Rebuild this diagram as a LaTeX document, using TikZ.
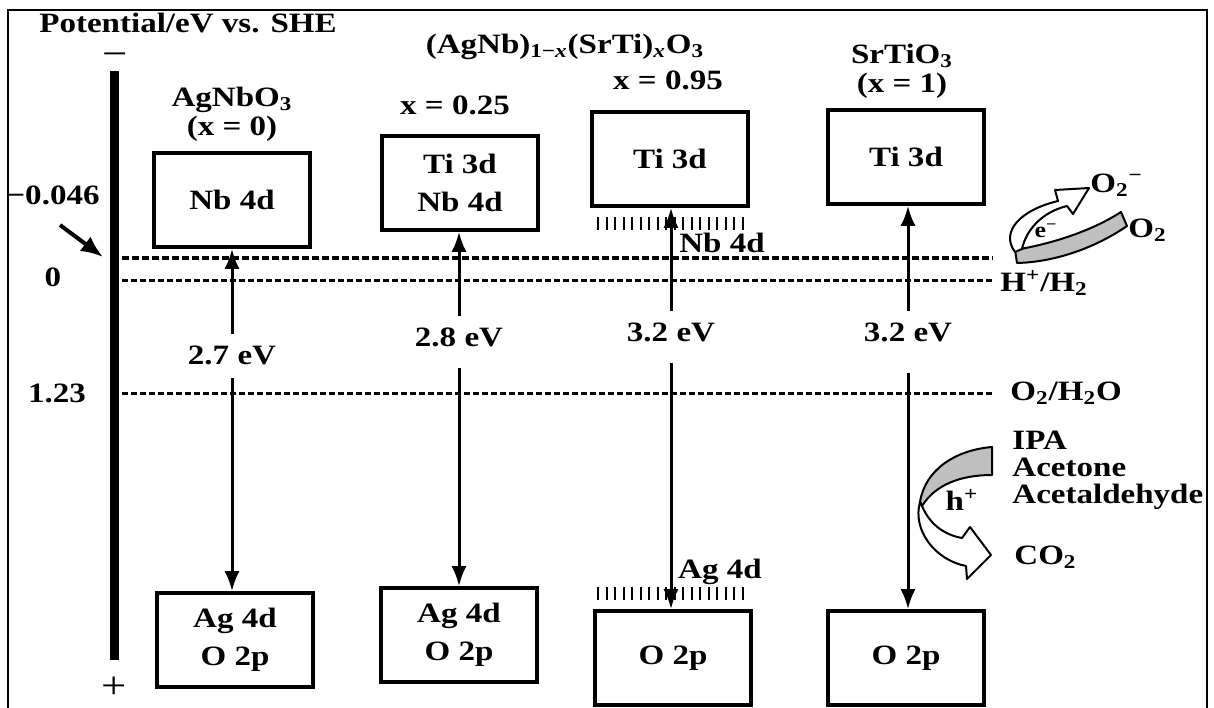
\documentclass[tikz,border=0pt]{standalone}
\usepackage{fontspec}
\setmainfont{Liberation Serif}[FakeStretch=1.18]
\usetikzlibrary{arrows.meta}
\tikzset{
  band/.style={draw,line width=1.8pt,minimum width=78pt,minimum height=47pt,
    align=center,inner sep=0pt,font=\fontsize{14}{19}\selectfont\bfseries},
  lbl/.style={align=center,inner sep=0pt,font=\fontsize{14}{14.5}\selectfont\bfseries},
  sign/.style={inner sep=0pt,font=\fontsize{19}{20}\selectfont},
  gaplbl/.style={lbl,inner ysep=5.5pt},
  gaparrow/.style={-{Latex[length=10pt,width=7.5pt]},line width=1.5pt},
  level/.style={dash pattern=on 3pt off 1.5pt,line width=1.5pt},
  hatch/.style={line width=1pt},
  blockarrow/.style={draw=black,line width=1pt,line join=round}
}
\begin{document}
\begin{tikzpicture}[x=0.5pt,y=-0.5pt]
\useasboundingbox (0,0) rectangle (1214,707);
% frame and potential axis
\draw[line width=1.4pt] (8,720) -- (8,10) -- (1207,10) -- (1207,720);
\draw[line width=4.5pt] (114,71) -- (114,660);
\node[lbl] (title) at (188,23) {Potential/eV vs. SHE};
\node[sign] (minus) at (115,60) {−};
\node[sign] (plus) at (114,688) {+};
\node[lbl] (pcb) at (53,195) {−0.046};
\node[lbl] (pzero) at (53,277) {0};
\node[lbl] (pwater) at (57,393) {1.23};
\coordinate (ptail) at (60,225);\coordinate (phead) at (103,257);
\draw[-{Latex[length=11pt,width=9pt]},line width=2pt] (ptail) -- (phead);
% redox levels
\draw[level,line width=1.8pt,dash pattern=on 3.5pt off 1.5pt] (122,258) -- (993,258);
\draw[level] (122,280) -- (993,280);
\draw[level] (122,393) -- (992,393);
\node[lbl,anchor=west] (hyd) at (1000,283) {H\textsuperscript{+}/H\textsubscript{2}};
\node[lbl,anchor=west] (oxy) at (1010,393) {O\textsubscript{2}/H\textsubscript{2}O};
% compositions
\node[lbl] (nameA) at (232,114) {AgNbO\textsubscript{3}\\(x = 0)};
\node[lbl] (nameB) at (455,105) {x = 0.25};
\node[lbl] (series) at (565,47) {(AgNb)\textsubscript{1−\textit{x}}(SrTi)\textsubscript{\textit{x}}O\textsubscript{3}};
\node[lbl] (nameC) at (668,80) {x = 0.95};
\node[lbl] (nameD) at (902,71) {SrTiO\textsubscript{3}\\(x = 1)};
% conduction and valence bands
\node[band] (cbA) at (232,200) {Nb 4d};
\node[band] (cbB) at (460,183) {Ti 3d\\Nb 4d};
\node[band] (cbC) at (670,159) {Ti 3d};
\node[band] (cbD) at (906,157) {Ti 3d};
\node[band] (vbA) at (235,640) {Ag 4d\\O 2p};
\node[band] (vbB) at (459,635) {Ag 4d\\O 2p};
\node[band] (vbC) at (673,658) {O 2p};
\node[band] (vbD) at (906,658) {O 2p};
% band gaps
\node[gaplbl] (gapA) at (232,355) {2.7 eV};
\node[gaplbl] (gapB) at (459,337) {2.8 eV};
\node[gaplbl] (gapC) at (671,332) {3.2 eV};
\node[gaplbl] (gapD) at (908,332) {3.2 eV};
\draw[gaparrow] (gapA) -- (gapA|-cbA.south);
\draw[gaparrow,shorten <=1pt] (gapA) -- (gapA|-vbA.north);
\draw[gaparrow] (gapB) -- (gapB|-cbB.south);
\draw[gaparrow,shorten <=5pt] (gapB) -- (gapB|-vbB.north);
\draw[gaparrow] (gapC) -- (gapC|-cbC.south);
\draw[gaparrow,shorten <=5pt] (gapC) -- (gapC|-vbC.north);
\draw[gaparrow] (gapD) -- (gapD|-cbD.south);
\draw[gaparrow,shorten <=10pt] (gapD) -- (gapD|-vbD.north);
% hybridised levels of x = 0.95
\foreach \i in {0,...,17}{
  \draw[hatch] (598+\i*8.53,217) -- ++(0,13);
  \draw[hatch] (598+\i*8.53,587) -- ++(0,13);
}
\node[lbl] (nbC) at (722,243) {Nb 4d};
\node[lbl] (agC) at (720,572) {Ag 4d};
% reduction of O2
\filldraw[fill=black!25,blockarrow] (1015,250) .. controls (1050,244) and (1090,232) .. (1121,212)
  -- (1127,226) .. controls (1095,248) and (1055,262) .. (1017,263) -- cycle;
\filldraw[fill=white,blockarrow] (1015,252) .. controls (1000,232) and (1020,210) .. (1058,201)
  -- (1055,190) -- (1089,188) -- (1073,214) -- (1067,206)
  .. controls (1042,212) and (1026,230) .. (1022,249) -- cycle;
\node[lbl,font=\fontsize{11}{12}\selectfont\bfseries] (elec) at (1046,231) {e\textsuperscript{−}};
\node[lbl,anchor=west] (superox) at (1090,185) {O\textsubscript{2}\textsuperscript{−}};
\node[lbl,anchor=west] (oxgas) at (1128,230) {O\textsubscript{2}};
% oxidation of organics
\filldraw[fill=black!25,blockarrow] (920,502) .. controls (925,470) and (955,450) .. (992,447)
  -- (992,475) .. controls (960,475) and (935,485) .. (922,506) -- cycle;
\filldraw[fill=white,blockarrow] (920,502) .. controls (912,530) and (935,560) .. (966,566)
  -- (967,579) -- (991,555) -- (970,527) -- (962,538)
  .. controls (945,535) and (930,525) .. (922,506) -- cycle;
\node[lbl] (hole) at (962,500) {h\textsuperscript{+}};
\node[lbl,anchor=west,align=left,font=\fontsize{14}{13.5}\selectfont\bfseries] (organics) at (1012,470) {IPA\\Acetone\\Acetaldehyde};
\node[lbl,anchor=west] (co2) at (1014,557) {CO\textsubscript{2}};
\end{tikzpicture}
\end{document}
